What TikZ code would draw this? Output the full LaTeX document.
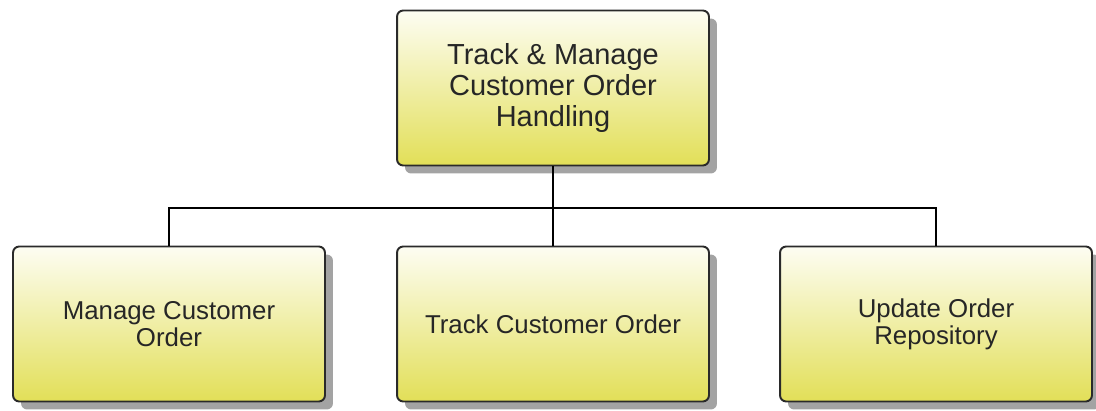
\documentclass[tikz,border=0pt]{standalone}
\usepackage{fontspec}
\setmainfont{Liberation Sans}
\usetikzlibrary{shadows}
\definecolor{boxtop}{HTML}{FDFDF2}
\definecolor{boxbot}{HTML}{E2DF58}
\definecolor{boxline}{HTML}{2A2A2A}
\begin{document}
\begin{tikzpicture}[x=0.02cm, y=-0.02cm, font=\fontsize{14.7}{15.5}\selectfont,
    box/.style={draw=boxline, line width=1.1pt, rounded corners=3.5pt,
        minimum width=6.24cm, minimum height=3.1cm, align=center,
        top color=boxtop, bottom color=boxbot, text=black!85,
        drop shadow={shadow xshift=0.16cm, shadow yshift=-0.16cm, fill=black!36, opacity=1}},
    link/.style={draw=black, line width=1.1pt}]
\useasboundingbox (0,0) rectangle (1096,410);
\node[box, font=\fontsize{16.5}{17.6}\selectfont] (root) at (553,88) {Track \& Manage\\Customer Order\\Handling};
\node[box] (manage) at (169,324) {Manage Customer\\Order};
\node[box] (track) at (553,324) {Track Customer Order};
\node[box] (update) at (936,324) {Update Order\\Repository};
\coordinate (bus) at (553,208);
\draw[link] (root.south) -- (bus);
\foreach \n in {manage,track,update}
{
    \draw[link] (\n.north) |- (bus);
}
\end{tikzpicture}
\end{document}
